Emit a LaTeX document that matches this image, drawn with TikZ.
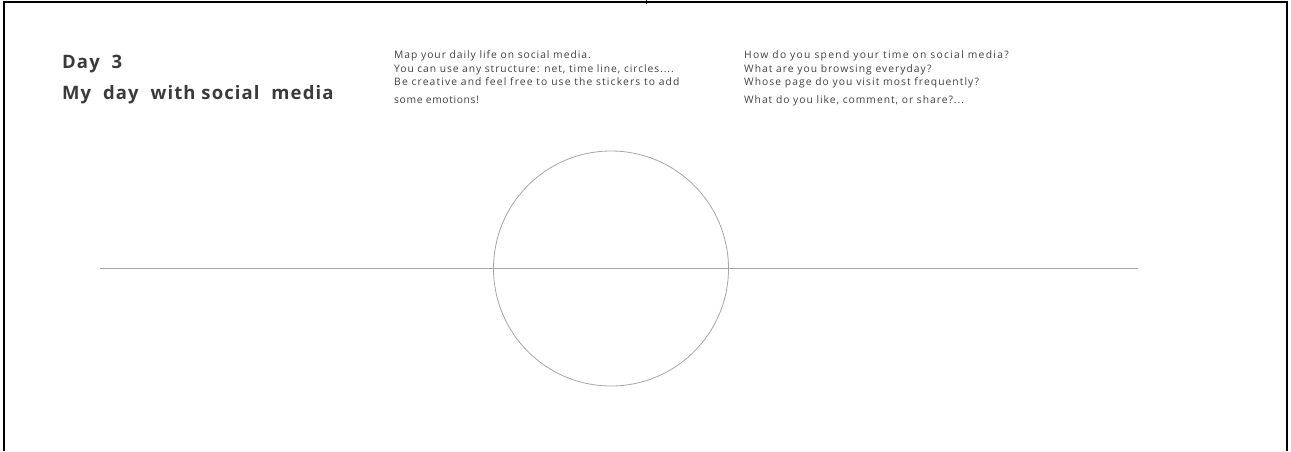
\documentclass[tikz,border=0pt]{standalone}
\usepackage{fontspec}
\setmainfont{Open Sans}
\newcommand{\ls}[1]{\addfontfeatures{LetterSpace=#1}}
\definecolor{txt}{HTML}{404040}
\definecolor{ttl}{HTML}{3A3A3A}
\definecolor{guide}{HTML}{A6A6A6}
\begin{document}
\begin{tikzpicture}[x=1pt,y=-1pt,
  title/.style={anchor=base west,inner sep=0pt,text=ttl,font=\fontsize{18.5}{20}\selectfont\bfseries\ls{6}},
  note/.style={anchor=base west,inner sep=0pt,text=txt,font=\fontsize{10.3}{11}\selectfont},
  frame/.style={draw=black,line width=2pt},
  guideline/.style={draw=guide,line width=1pt}]
\useasboundingbox (0,0) rectangle (1291,451);
% frame
\coordinate (tl) at (3.5,2);
\coordinate (tr) at (1286.5,2);
\coordinate (bl) at (3.5,451);
\coordinate (br) at (1286.5,451);
\draw[frame] (bl) -- (tl) -- (tr) -- (br);
\coordinate (tk1) at (646.7,0);
\coordinate (tk2) at (646.7,3.5);
\draw[black,line width=1pt] (tk1) -- (tk2);
% title
\node[title] (d3) at (62,68.3) {Day\ \ 3};
\node[title] (my) at (62,99.3) {My\ \ day\ \ with social\ \ media};
% left notes
\node[note] (l1) at (394,58) {\ls{9.4}Map your daily life on social media.};
\node[note] (l2) at (394,72.5) {\ls{8.9}You can use any structure: net, time line, circles....};
\node[note] (l3) at (394,85) {\ls{11}Be creative and feel free to use the stickers to add};
\node[note] (l4) at (394,103) {\ls{6.1}some emotions!};
% right notes
\node[note] (r1) at (744,58) {\ls{12.6}How do you spend your time on social media?};
\node[note] (r2) at (744,72.5) {\ls{9.9}What are you browsing everyday?};
\node[note] (r3) at (744,85) {\ls{10.3}Whose page do you visit most frequently?};
\node[note] (r4) at (744,103) {\ls{9.5}What do you like, comment, or share?...};
% timeline and circle
\coordinate (ls) at (100,268.5);
\coordinate (le) at (1138,268.5);
\draw[guideline] (ls) -- (le);
\node[draw=guide,line width=0.8pt,circle,minimum size=235pt,inner sep=0pt] (c) at (611,268.5) {};
\end{tikzpicture}
\end{document}
